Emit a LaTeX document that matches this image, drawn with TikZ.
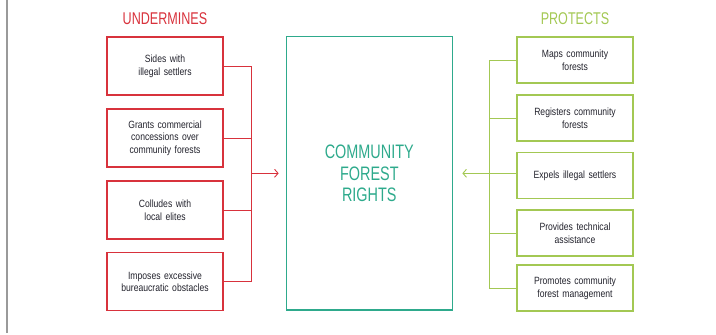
\documentclass[tikz,border=0pt]{standalone}
\usepackage{fontspec}
\setmainfont{Liberation Sans}[FakeStretch=0.82]
\newfontfamily\narrowfont{Liberation Sans}[FakeStretch=0.74]
\usetikzlibrary{arrows.meta}
\definecolor{ured}{HTML}{D8323C}
\definecolor{pgreen}{HTML}{A3C853}
\definecolor{cteal}{HTML}{2EAA8C}
\definecolor{btext}{HTML}{22222C}
\definecolor{lgray}{HTML}{9A9A9A}
\begin{document}
\begin{tikzpicture}[x=1pt,y=-1pt,
  boxbase/.style={line width=1.1pt, minimum width=116pt, text width=110pt, align=center,
    font=\fontsize{10.5}{12.7}\selectfont, text=btext, inner sep=0pt},
  redbox/.style={boxbase, draw=ured, minimum height=58pt},
  greenbox/.style={boxbase, draw=pgreen, minimum height=46pt},
  title/.style={font=\narrowfont\fontsize{17}{20}\selectfont},
  link/.style={line width=0.9pt},
  tip/.style={-{Straight Barb[length=3.5pt,width=8pt,line width=0.9pt]}}
]
\useasboundingbox (0,0) rectangle (716,335);
\draw[lgray, line width=2pt] (7,0) -- (7,333);

\node[title, text=ured] (tu) at (165,19) {UNDERMINES};
\node[title, text=pgreen] (tp) at (575,19) {PROTECTS};

\node[redbox] (l1) at (165,66) {Sides with\\illegal settlers};
\node[redbox] (l2) at (165,138) {Grants commercial\\concessions over\\community forests};
\node[redbox] (l3) at (165,210) {Colludes with\\local elites};
\node[redbox] (l4) at (165,281.75) {Imposes excessive\\bureaucratic obstacles};

\node[draw=cteal, line width=1.3pt, minimum width=166pt, minimum height=273.3pt, inner sep=0pt,
  text=cteal, align=center, font=\narrowfont\fontsize{19.5}{21.5}\selectfont] (cr) at (369.3,173.3)
  {COMMUNITY\\FOREST\\RIGHTS};

\node[greenbox] (r1) at (575,60) {Maps community\\forests};
\node[greenbox] (r2) at (575,118) {Registers community\\forests};
\node[greenbox] (r3) at (575,175.7) {Expels illegal settlers};
\node[greenbox] (r4) at (575,233) {Provides technical\\assistance};
\node[greenbox] (r5) at (575,288) {Promotes community\\forest management};

\coordinate (lb) at (251,173.3);
\coordinate (rb) at (489.7,173.3);

\begin{scope}[draw=ured, link]
\draw (l1.east) -| (lb);
\draw (l4.east) -| (lb);
\draw (l2.east) -- (l2.east -| lb);
\draw (l3.east) -- (l3.east -| lb);
\draw[tip, shorten >=7pt] (lb) -- (cr.west);
\end{scope}

\begin{scope}[draw=pgreen, link]
\draw (r1.west) -| (rb);
\draw (r5.west) -| (rb);
\draw (r2.west) -- (r2.west -| rb);
\draw (r4.west) -- (r4.west -| rb);
\draw[tip, shorten >=9.4pt] (r3.west |- cr.east) -- (cr.east);
\end{scope}
\end{tikzpicture}
\end{document}
